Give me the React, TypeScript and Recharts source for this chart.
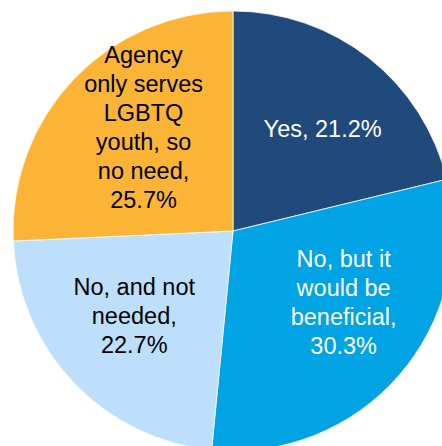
import { Cell, Pie, PieChart } from "recharts";

const categories = [
  "Yes,",
  "No, but it\nwould be\nbeneficial,",
  "No, and not\nneeded,",
  "Agency\nonly serves\nLGBTQ\nyouth, so\nno need,",
];
const shares = [21.2, 30.3, 22.7, 25.7];
const colors = ["#214A7C", "#00A3E4", "#BDDFFC", "#FBB436"];
const textColors = ["#FFFFFF", "#FFFFFF", "#000000", "#000000"];

const data = categories.map((name, i) => ({ name, value: shares[i] }));

// small hand nudges so labels sit where the original put them
const nudges = [
  [8, 2],
  [11, -15],
  [-3, -6],
  [6, -12],
];

const RAD = Math.PI / 180;
const LINE_H = 29;

function renderLabel(props: any) {
  const { cx, cy, midAngle, index } = props;
  const r = 132;
  const x = cx + r * Math.cos(-midAngle * RAD) + nudges[index][0];
  const y = cy + r * Math.sin(-midAngle * RAD) + nudges[index][1];
  const name = categories[index];
  const pct = `${shares[index].toFixed(1)}%`;
  const lines = name.includes("\n") ? [...name.split("\n"), pct] : [`${name} ${pct}`];
  const top = y - ((lines.length - 1) * LINE_H) / 2;
  return (
    <text
      key={`lbl-${index}`}
      x={x}
      y={top}
      fill={textColors[index]}
      textAnchor="middle"
      dominantBaseline="central"
      style={{ fontFamily: "'Liberation Sans', Arial, sans-serif", fontSize: 23.5 }}
    >
      {lines.map((line, i) => (
        <tspan key={i} x={x} y={top + i * LINE_H}>
          {line}
        </tspan>
      ))}
    </text>
  );
}

export default function App() {
  return (
    <div style={{ position: "absolute", left: 0, top: 0, width: 442, height: 446, background: "#fff" }}>
      <PieChart width={442} height={446} margin={{ top: 0, right: 0, bottom: 0, left: 0 }}>
        <Pie
          data={data}
          dataKey="value"
          cx={233}
          cy={231}
          innerRadius={0}
          outerRadius={220}
          startAngle={90}
          endAngle={-270}
          stroke="#ffffff"
          strokeWidth={0.75}
          label={renderLabel}
          labelLine={false}
          isAnimationActive={false}
        >
          {data.map((entry, i) => (
            <Cell key={entry.name} fill={colors[i]} />
          ))}
        </Pie>
      </PieChart>
    </div>
  );
}
